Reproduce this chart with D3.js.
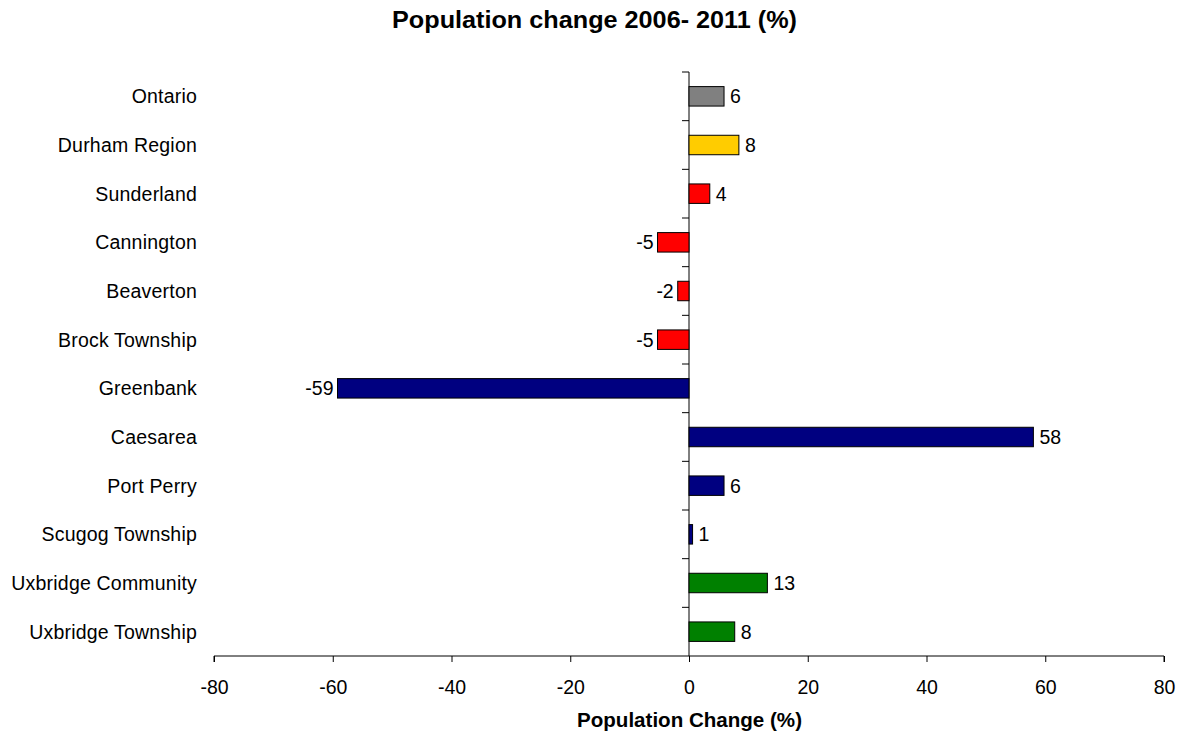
<!DOCTYPE html>
<html><head><meta charset="utf-8">
<script src="https://cdn.jsdelivr.net/npm/d3@7"></script>
<style>body{margin:0;background:#fff}svg{display:block}text{font-family:"Liberation Sans",Arial,sans-serif}</style>
</head><body>
<svg id="c" width="1182" height="735"></svg>
<script>
const categories = ["Ontario","Durham Region","Sunderland","Cannington ","Beaverton","Brock Township","Greenbank","Caesarea","Port Perry","Scugog Township","Uxbridge Community","Uxbridge Township"];
const values = [5.9, 8.4, 3.5, -5.3, -1.9, -5.3, -59.2, 58.0, 5.9, 0.6, 13.2, 7.7];
const colors = ["#808080","#FFCC00","#FF0000","#FF0000","#FF0000","#FF0000","#000080","#000080","#000080","#000080","#008000","#008000"];
const xTicks = [-80,-60,-40,-20,0,20,40,60,80];

(function(){
const svg = d3.select("#c");
const pL = 214, pR = 1164, pT = 72, pB = 656;
const x = d3.scaleLinear().domain([-80,80]).range([pL,pR]);
const y = d3.scaleBand().domain(categories).range([pT,pB]).paddingInner(0.6).paddingOuter(0.3);
const yb = d3.scaleBand().domain(categories).range([pT,pB]);
const fmt = v => d3.format(".0f")(v).replace("\u2212","-");

svg.append("text").attr("x",594.5).attr("y",28).attr("text-anchor","middle")
  .attr("textLength",405).attr("lengthAdjust","spacingAndGlyphs")
  .style("font-size","24px").style("font-weight","bold").text("Population change 2006- 2011 (%)");

// x axis
const xa = svg.append("g").attr("transform",`translate(0,${pB})`)
  .call(d3.axisBottom(x).tickValues(xTicks).tickSize(6).tickFormat(d => String(d)));
xa.select(".domain").attr("stroke","#000").attr("d",`M${pL},6V0H${pR}V6`);
xa.selectAll("text").attr("y",38).attr("dy",null).style("font-size","19.5px")
  .attr("fill","#000").style("font-family","Liberation Sans, Arial, sans-serif");
xa.selectAll("line").attr("stroke","#000");

// vertical axis at zero
const zero = x(0);
svg.append("line").attr("x1",zero).attr("x2",zero).attr("y1",pT).attr("y2",pB).attr("stroke","#000");
const bounds = categories.map(c=>yb(c));
svg.selectAll(".yt").data(bounds).enter().append("line")
  .attr("x1",zero-7).attr("x2",zero).attr("y1",d=>d).attr("y2",d=>d).attr("stroke","#000");

// category labels
svg.selectAll(".cl").data(categories).enter().append("text")
  .attr("x",197).attr("y",d=>yb(d)+yb.bandwidth()/2+7)
  .attr("text-anchor","end").style("font-size","19.5px").style("letter-spacing","0.2px").text(d=>d);

// bars
svg.selectAll(".bar").data(values).enter().append("rect")
  .attr("x",d=>x(Math.min(0,d))).attr("width",d=>Math.abs(x(d)-x(0)))
  .attr("y",(d,i)=>y(categories[i])).attr("height",y.bandwidth())
  .attr("fill",(d,i)=>colors[i]).attr("stroke","#000").attr("stroke-width",1);

// value labels
svg.selectAll(".vl").data(values).enter().append("text")
  .attr("x",d=>d>=0 ? x(d)+6 : x(d)-4)
  .attr("y",(d,i)=>yb(categories[i])+yb.bandwidth()/2+7)
  .attr("text-anchor",d=>d>=0?"start":"end").style("font-size","19.5px")
  .text(d=>fmt(d));

svg.append("text").attr("x",689.5).attr("y",727).attr("text-anchor","middle")
  .attr("textLength",225).attr("lengthAdjust","spacingAndGlyphs")
  .style("font-size","20px").style("font-weight","bold").text("Population Change (%)");
})();
</script>
</body></html>
